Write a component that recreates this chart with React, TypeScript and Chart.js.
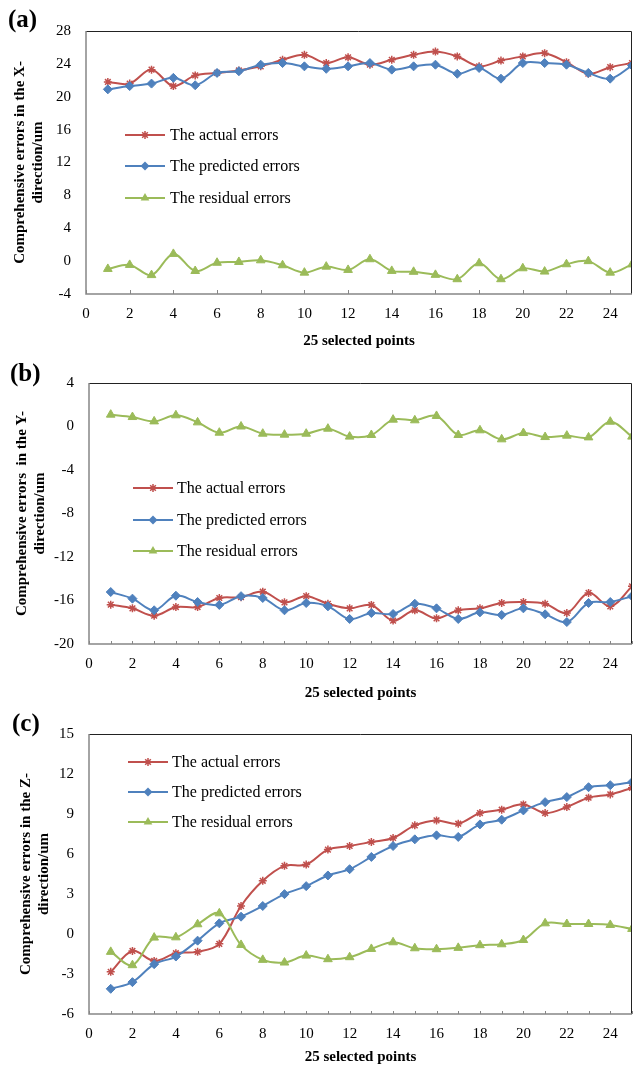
import React, { useEffect, useRef } from 'react';
import { Chart, registerables } from 'chart.js';

Chart.register(...registerables);

// ---------- data ----------
const X_POINTS = [1, 2, 3, 4, 5, 6, 7, 8, 9, 10, 11, 12, 13, 14, 15, 16, 17, 18, 19, 20, 21, 22, 23, 24, 25];
const X_TICKS = [0, 2, 4, 6, 8, 10, 12, 14, 16, 18, 20, 22, 24];
const X_TITLE = '25 selected points';
const SERIES_NAMES = ['The actual errors', 'The predicted errors', 'The residual errors'];

const A_Y_TICKS = [-4, 0, 4, 8, 12, 16, 20, 24, 28];
const A_ACTUAL = [21.8, 21.6, 23.3, 21.3, 22.6, 22.9, 23.2, 23.7, 24.5, 25.1, 24.1, 24.8, 23.9, 24.5, 25.1, 25.5, 24.9, 23.7, 24.4, 24.9, 25.3, 24.2, 22.8, 23.6, 24.1];
const A_PRED = [20.9, 21.3, 21.6, 22.3, 21.4, 22.9, 23.1, 23.9, 24.1, 23.7, 23.4, 23.7, 24.1, 23.3, 23.7, 23.9, 22.8, 23.5, 22.2, 24.1, 24.1, 23.9, 22.9, 22.2, 23.8];
const A_RESID = [-0.95, -0.46, -1.7, 0.88, -1.2, -0.2, -0.1, 0.1, -0.5, -1.4, -0.67, -1.07, 0.23, -1.19, -1.3, -1.67, -2.2, -0.26, -2.2, -0.87, -1.27, -0.38, 0.0, -1.4, -0.4];

const B_Y_TICKS = [-20, -16, -12, -8, -4, 0, 4];
const B_ACTUAL = [-16.38, -16.72, -17.4, -16.6, -16.6, -15.77, -15.7, -15.19, -16.17, -15.6, -16.3, -16.72, -16.41, -17.85, -16.9, -17.64, -16.9, -16.72, -16.23, -16.14, -16.3, -17.15, -15.3, -16.54, -14.7];
const B_PRED = [-15.22, -15.83, -16.9, -15.56, -16.14, -16.41, -15.6, -15.77, -16.9, -16.23, -16.54, -17.7, -17.15, -17.24, -16.3, -16.72, -17.7, -17.09, -17.33, -16.72, -17.27, -17.98, -16.23, -16.14, -15.6];
const B_RESID = [1.09, 0.87, 0.47, 1.03, 0.38, -0.57, 0.0, -0.66, -0.75, -0.66, -0.2, -0.93, -0.78, 0.63, 0.57, 0.97, -0.78, -0.35, -1.18, -0.6, -0.97, -0.84, -1.0, 0.44, -0.93];

const C_Y_TICKS = [-6, -3, 0, 3, 6, 9, 12, 15];
const C_ACTUAL = [-2.84, -1.27, -2.02, -1.44, -1.34, -0.74, 2.1, 3.99, 5.11, 5.21, 6.33, 6.6, 6.9, 7.2, 8.15, 8.52, 8.27, 9.07, 9.32, 9.72, 9.07, 9.52, 10.22, 10.47, 10.96];
const C_PRED = [-4.11, -3.61, -2.26, -1.69, -0.5, 0.8, 1.3, 2.1, 2.99, 3.59, 4.39, 4.86, 5.78, 6.6, 7.1, 7.4, 7.28, 8.22, 8.57, 9.27, 9.89, 10.27, 11.01, 11.16, 11.39];
const C_RESID = [-1.34, -2.34, -0.27, -0.25, 0.73, 1.55, -0.82, -1.94, -2.14, -1.62, -1.89, -1.74, -1.12, -0.62, -1.07, -1.14, -1.04, -0.84, -0.77, -0.45, 0.8, 0.75, 0.75, 0.68, 0.38];

// ---------- styles ----------
const FONT = "'Liberation Serif', 'Times New Roman', serif";
const COLORS = ['#C0504D', '#4F81BD', '#9BBB59'];
const POINT_STYLES = ['star', 'rectRot', 'triangle'];
const POINT_RADII = [4, 4.5, 5];

const PANELS = [
  {
    tag: '(a)', top: 0, height: 355,
    area: { left: 86, top: 31, right: 634, bottom: 294 },
    yTitle: ['Comprehensive errors in the X-', 'direction/um'], yTitlePad: 11,
    yMin: -4, yMax: 28, yTicks: A_Y_TICKS, series: [A_ACTUAL, A_PRED, A_RESID],
    legend: { x1: 125, x2: 165, tx: 170, ys: [135, 166, 198] },
    tagPos: { x: 8, y: 21 }, xTitlePad: 5, tickEvery: 2, tickLen: 4,
  },
  {
    tag: '(b)', top: 355, height: 355,
    area: { left: 89, top: 28, right: 637, bottom: 289 },
    yTitle: ['Comprehensive errors  in the Y-', 'direction/um'], yTitlePad: 13,
    yMin: -20, yMax: 4, yTicks: B_Y_TICKS, series: [B_ACTUAL, B_PRED, B_RESID],
    legend: { x1: 133, x2: 173, tx: 177, ys: [133, 165, 196] },
    tagPos: { x: 10, y: 20 }, xTitlePad: 8, tickEvery: 1, tickLen: 3,
  },
  {
    tag: '(c)', top: 710, height: 359,
    area: { left: 89, top: 23, right: 637, bottom: 304 },
    yTitle: ['Comprehensive errors in the Z-', 'direction/um'], yTitlePad: 17,
    yMin: -6, yMax: 15, yTicks: C_Y_TICKS, series: [C_ACTUAL, C_PRED, C_RESID],
    legend: { x1: 128, x2: 168, tx: 172, ys: [52, 82, 112] },
    tagPos: { x: 12, y: 15 }, xTitlePad: 3, tickEvery: 1, tickLen: 3,
  },
];

function drawMarker(ctx: CanvasRenderingContext2D, style: string, x: number, y: number, r: number, color: string) {
  ctx.save();
  ctx.strokeStyle = color;
  ctx.fillStyle = color;
  ctx.lineWidth = 1.5;
  ctx.beginPath();
  if (style === 'star') {
    const d = r * Math.SQRT1_2;
    ctx.moveTo(x - r, y); ctx.lineTo(x + r, y);
    ctx.moveTo(x, y - r); ctx.lineTo(x, y + r);
    ctx.moveTo(x - d, y - d); ctx.lineTo(x + d, y + d);
    ctx.moveTo(x - d, y + d); ctx.lineTo(x + d, y - d);
    ctx.stroke();
  } else if (style === 'rectRot') {
    ctx.moveTo(x, y - r); ctx.lineTo(x + r, y); ctx.lineTo(x, y + r); ctx.lineTo(x - r, y);
    ctx.closePath(); ctx.fill();
  } else {
    const s = r * Math.sin(Math.PI / 3);
    ctx.moveTo(x, y - r); ctx.lineTo(x + s, y + r / 2); ctx.lineTo(x - s, y + r / 2);
    ctx.closePath(); ctx.fill();
  }
  ctx.restore();
}

function Panel({ cfg }: { cfg: any }) {
  const ref = useRef<HTMLCanvasElement>(null);
  useEffect(() => {
    const canvas = ref.current!;
    const decor = {
      id: 'decor',
      afterDatasetsDraw(chart: any) {
        const { ctx, chartArea } = chart;
        const { left, top, right, bottom } = chartArea;
        const xs = chart.scales.x;
        ctx.save();
        ctx.strokeStyle = '#222';
        ctx.lineWidth = 1;
        ctx.beginPath();
        ctx.moveTo(left, top + 0.5); ctx.lineTo(right - 0.5, top + 0.5); ctx.lineTo(right - 0.5, bottom);
        ctx.stroke();
        ctx.strokeStyle = '#868686';
        ctx.lineWidth = 1.5;
        ctx.beginPath();
        ctx.moveTo(left, top); ctx.lineTo(left, bottom); ctx.lineTo(right, bottom);
        ctx.stroke();
        ctx.lineWidth = 1;
        ctx.beginPath();
        for (let v = 0; v <= 25; v += cfg.tickEvery) {
          const px = Math.round(xs.getPixelForValue(v)) + 0.5;
          ctx.moveTo(px, bottom); ctx.lineTo(px, bottom - cfg.tickLen);
        }
        ctx.stroke();
        ctx.restore();
      },
      afterDraw(chart: any) {
        const { ctx } = chart;
        const lg = cfg.legend;
        ctx.save();
        SERIES_NAMES.forEach((name, i) => {
          const y = lg.ys[i];
          ctx.strokeStyle = COLORS[i];
          ctx.lineWidth = 2;
          ctx.beginPath();
          ctx.moveTo(lg.x1, y); ctx.lineTo(lg.x2, y);
          ctx.stroke();
          drawMarker(ctx, POINT_STYLES[i], (lg.x1 + lg.x2) / 2, y, POINT_RADII[i], COLORS[i]);
          ctx.fillStyle = '#000';
          ctx.font = `16px ${FONT}`;
          ctx.textAlign = 'left';
          ctx.textBaseline = 'middle';
          ctx.fillText(name, lg.tx, y + 1);
        });
        ctx.font = `bold 25px ${FONT}`;
        ctx.fillStyle = '#000';
        ctx.textAlign = 'left';
        ctx.textBaseline = 'middle';
        ctx.fillText(cfg.tag, cfg.tagPos.x, cfg.tagPos.y);
        ctx.restore();
      },
    };

    const datasets = cfg.series.map((arr: number[], i: number) => ({
      label: SERIES_NAMES[i],
      data: X_POINTS.map((x, j) => ({ x, y: arr[j] })),
      borderColor: COLORS[i],
      backgroundColor: COLORS[i],
      pointBackgroundColor: COLORS[i],
      pointBorderColor: COLORS[i],
      borderWidth: 2,
      pointStyle: POINT_STYLES[i],
      pointRadius: POINT_RADII[i],
      pointBorderWidth: i === 0 ? 1.5 : 1,
      tension: 0.35,
      order: 3 - i,
      clip: 0,
    }));

    const chart = new Chart(canvas, {
      type: 'line',
      data: { datasets },
      options: {
        responsive: false,
        animation: false,
        devicePixelRatio: 1,
        layout: { padding: { top: cfg.area.top, right: 638 - cfg.area.right, bottom: 0, left: 0 } },
        plugins: { legend: { display: false }, tooltip: { enabled: false } },
        scales: {
          x: {
            type: 'linear', min: 0, max: 25,
            grid: { display: false, drawTicks: false },
            border: { display: false },
            afterBuildTicks: (s: any) => { s.ticks = X_TICKS.map((v) => ({ value: v })); },
            afterFit: (s: any) => { s.height = cfg.height - cfg.area.bottom; },
            ticks: { padding: 11, color: '#000', maxRotation: 0, autoSkip: false, font: { family: FONT, size: 15 } },
            title: {
              display: true, text: X_TITLE, color: '#000',
              font: { family: FONT, size: 15, weight: 'bold' },
              padding: { top: 0, bottom: cfg.xTitlePad },
            },
          },
          y: {
            type: 'linear', min: cfg.yMin, max: cfg.yMax,
            grid: { display: false, drawTicks: false },
            border: { display: false },
            afterBuildTicks: (s: any) => { s.ticks = cfg.yTicks.map((v: number) => ({ value: v })); },
            afterFit: (s: any) => { s.width = cfg.area.left; },
            ticks: { padding: 15, color: '#000', font: { family: FONT, size: 15 } },
            title: {
              display: true, text: cfg.yTitle, color: '#000',
              font: { family: FONT, size: 15, weight: 'bold' },
              padding: { top: cfg.yTitlePad, bottom: 0 },
            },
          },
        },
      },
      plugins: [decor],
    } as any);
    return () => chart.destroy();
  }, []);
  return (
    <canvas
      ref={ref}
      width={638}
      height={cfg.height}
      style={{ position: 'absolute', left: 0, top: cfg.top, width: 638, height: cfg.height, display: 'block' }}
    />
  );
}

export default function App() {
  return (
    <div style={{ position: 'absolute', left: 0, top: 0, width: 638, height: 1069, background: '#fff', overflow: 'hidden' }}>
      {PANELS.map((p) => (
        <Panel key={p.tag} cfg={p} />
      ))}
    </div>
  );
}
